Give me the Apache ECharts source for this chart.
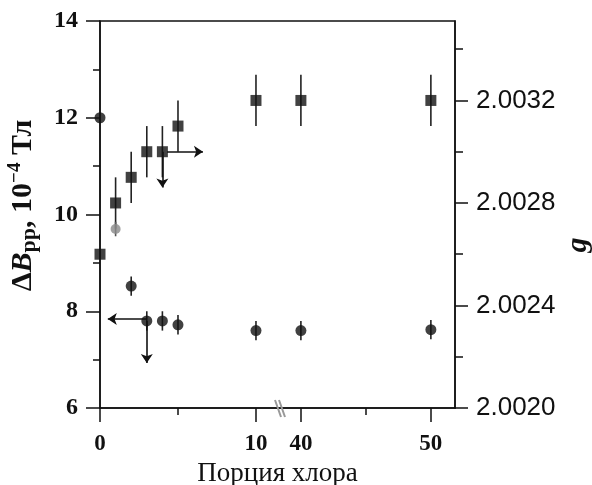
<!DOCTYPE html>
<html><head><meta charset="utf-8">
<script src="https://cdn.jsdelivr.net/npm/echarts@6/dist/echarts.min.js"></script>
<style>html,body{margin:0;padding:0;background:#fff}#c{width:592px;height:485px}</style>
</head><body><div id="c"></div>
<script>
// ---- data ----
const squarePortion = [0, 1, 2, 3, 4, 5, 10, 40, 50];
const gValues       = [2.0026, 2.0028, 2.0029, 2.0030, 2.0030, 2.0031, 2.0032, 2.0032, 2.0032];
const gErrors       = [0, 0.0001, 0.0001, 0.0001, 0.0001, 0.0001, 0.0001, 0.0001, 0.0001];

const circlePortion = [0, 2, 3, 4, 5, 10, 40, 50];
const dBValues      = [12.0, 8.52, 7.8, 7.8, 7.72, 7.6, 7.6, 7.62];
const dBErrors      = [0, 0.2, 0.2, 0.2, 0.2, 0.2, 0.2, 0.2];

const greyPortion = [1];
const greyValues  = [9.7];
const greyErrors  = [0.15];

// arrows: [from, to] in data units
const dBArrows = [[[3, 7.84], [0.5, 7.84]], [[3, 7.8], [3, 6.93]]];
const gArrows  = [[[4.3, 2.0030], [6.6, 2.0030]], [[4, 2.0030], [4, 2.00286]]];

// tick labels
const xMajorTicks = [0, 10, 40, 50];
const xMinorTicks = [5, 45];
const gTicks = [2.0020, 2.0024, 2.0028, 2.0032];

// ---- broken x axis mapping ----
const BREAK_LOW = 10, BREAK_HIGH = 40, SEG2_OFFSET = 12.88, SEG2_SCALE = 0.8333;
function vx(x) { return x <= BREAK_LOW ? x : SEG2_OFFSET + (x - BREAK_HIGH) * SEG2_SCALE; }
const X_MAX = 22.76;

const INK = '#111';
function errorSeries(xs, ys, errs, yAxisIndex, color) {
  const data = [];
  xs.forEach((x, i) => { if (errs[i] > 0) data.push([vx(x), ys[i] - errs[i], ys[i] + errs[i]]); });
  return {
    type: 'custom', xAxisIndex: 0, yAxisIndex, silent: true, z: 1, data,
    renderItem(params, api) {
      const lo = api.coord([api.value(0), api.value(1)]);
      const hi = api.coord([api.value(0), api.value(2)]);
      return { type: 'line', shape: { x1: lo[0], y1: lo[1], x2: hi[0], y2: hi[1] },
               style: { stroke: color, lineWidth: 1.6 } };
    }
  };
}
function arrowSeries(arrows, yAxisIndex) {
  return {
    type: 'lines', coordinateSystem: 'cartesian2d', xAxisIndex: 0, yAxisIndex, z: 2, silent: true,
    symbol: ['none', 'arrow'], symbolSize: 9,
    lineStyle: { color: INK, width: 1.6, opacity: 1 },
    data: arrows.map(a => ({ coords: a.map(p => [vx(p[0]), p[1]]) }))
  };
}

const chart = echarts.init(document.getElementById('c'), null, { renderer: 'canvas' });
chart.setOption({
  animation: false,
  backgroundColor: '#fff',
  grid: { left: 100, right: 137, top: 21, bottom: 77, containLabel: false, outerBoundsMode: 'none',
          show: true, borderColor: INK, borderWidth: 1.5, backgroundColor: 'transparent' },
  xAxis: [
    {
      type: 'value', min: 0, max: X_MAX, position: 'bottom',
      axisLine: { show: true, onZero: false, lineStyle: { color: INK, width: 1.5 } },
      axisTick: { show: true, customValues: xMajorTicks.map(vx), length: 14, lineStyle: { color: INK, width: 1.5 } },
      axisLabel: {
        customValues: xMajorTicks.map(vx), margin: 25,
        formatter: v => { const i = xMajorTicks.findIndex(t => Math.abs(vx(t) - v) < 1e-6); return i >= 0 ? String(xMajorTicks[i]) : ''; },
        fontFamily: 'Liberation Serif', fontWeight: 'bold', fontSize: 23, color: INK
      },
      splitLine: { show: false },
      name: 'Порция хлора', nameLocation: 'middle', nameGap: 51,
      nameTextStyle: { fontFamily: 'Liberation Serif', fontSize: 27, color: INK }
    },
    {
      type: 'value', min: 0, max: X_MAX, position: 'bottom',
      axisLine: { show: false, onZero: false },
      axisTick: { show: true, customValues: xMinorTicks.map(vx), length: 7, lineStyle: { color: INK, width: 1.5 } },
      axisLabel: { show: false }, splitLine: { show: false }
    }
  ],
  yAxis: [
    {
      type: 'value', min: 6, max: 14, interval: 2, position: 'left',
      axisLine: { show: true, onZero: false, lineStyle: { color: INK, width: 1.5 } },
      axisTick: { show: true, length: 14, lineStyle: { color: INK, width: 1.5 } },
      minorTick: { show: true, splitNumber: 2, length: 7, lineStyle: { color: INK, width: 1.5 } },
      splitLine: { show: false }, minorSplitLine: { show: false },
      axisLabel: { margin: 22, fontFamily: 'Liberation Serif', fontWeight: 'bold', fontSize: 24, color: INK },
      name: '{m|Δ}{i|B}{s|pp}{m|, 10}{p|−4}{m| Тл}',
      nameLocation: 'middle', nameRotate: 90, nameGap: 60,
      nameTextStyle: {
        padding: [0, 0, 0, 18],
        rich: {
          m: { fontFamily: 'Liberation Serif', fontWeight: 'bold', fontSize: 30, lineHeight: 34, color: INK },
          i: { fontFamily: 'Liberation Serif', fontWeight: 'bold', fontStyle: 'italic', fontSize: 30, lineHeight: 34, color: INK },
          s: { fontFamily: 'Liberation Serif', fontWeight: 'bold', fontSize: 22, lineHeight: 22, verticalAlign: 'bottom', color: INK },
          p: { fontFamily: 'Liberation Serif', fontWeight: 'bold', fontSize: 19, lineHeight: 19, verticalAlign: 'top', color: INK }
        }
      }
    },
    {
      type: 'value', min: 2.0020, max: 2.00351, interval: 0.0004, position: 'right',
      axisLine: { show: true, onZero: false, lineStyle: { color: INK, width: 1.5 } },
      axisTick: { show: true, customValues: gTicks, length: 13, lineStyle: { color: INK, width: 1.5 } },
      minorTick: { show: true, splitNumber: 2, length: 8, lineStyle: { color: INK, width: 1.5 } },
      splitLine: { show: false }, minorSplitLine: { show: false },
      axisLabel: { customValues: gTicks, margin: 21, formatter: v => v.toFixed(4),
        fontFamily: 'Liberation Sans', fontSize: 26, color: INK }
    }
  ],
  series: [
    errorSeries(squarePortion, gValues, gErrors, 1, '#222'),
    errorSeries(circlePortion, dBValues, dBErrors, 0, '#222'),
    errorSeries(greyPortion, greyValues, greyErrors, 0, '#555'),
    arrowSeries(dBArrows, 0),
    arrowSeries(gArrows, 1),
    { type: 'scatter', xAxisIndex: 0, yAxisIndex: 1, symbol: 'rect', symbolSize: 11, z: 3,
      itemStyle: { color: INK }, data: squarePortion.map((x, i) => [vx(x), gValues[i]]) },
    { type: 'scatter', xAxisIndex: 0, yAxisIndex: 0, symbol: 'circle', symbolSize: 11, z: 3,
      itemStyle: { color: INK }, data: circlePortion.map((x, i) => [vx(x), dBValues[i]]) },
    { type: 'scatter', xAxisIndex: 0, yAxisIndex: 0, symbol: 'circle', symbolSize: 10, z: 3,
      itemStyle: { color: '#8a8a8a' }, data: greyPortion.map((x, i) => [vx(x), greyValues[i]]) }
  ]
});

// break mark and rotated g label
const bp = chart.convertToPixel({ xAxisIndex: 0, yAxisIndex: 0 }, [(vx(BREAK_LOW) + vx(BREAK_HIGH)) / 2 + 0.1, 6]);
chart.setOption({
  graphic: [
    { type: 'line', shape: { x1: bp[0] - 5, y1: bp[1] - 8, x2: bp[0] + 1, y2: bp[1] + 9 }, style: { stroke: '#999', lineWidth: 2 }, z: 10 },
    { type: 'line', shape: { x1: bp[0] - 1, y1: bp[1] - 8, x2: bp[0] + 5, y2: bp[1] + 9 }, style: { stroke: '#999', lineWidth: 2 }, z: 10 },
    { type: 'text', x: 578, y: 245, rotation: Math.PI / 2,
      style: { text: 'g', font: 'italic bold 30px "Liberation Serif"', fill: INK, textAlign: 'center', textVerticalAlign: 'middle' } }
  ]
});
</script></body></html>
